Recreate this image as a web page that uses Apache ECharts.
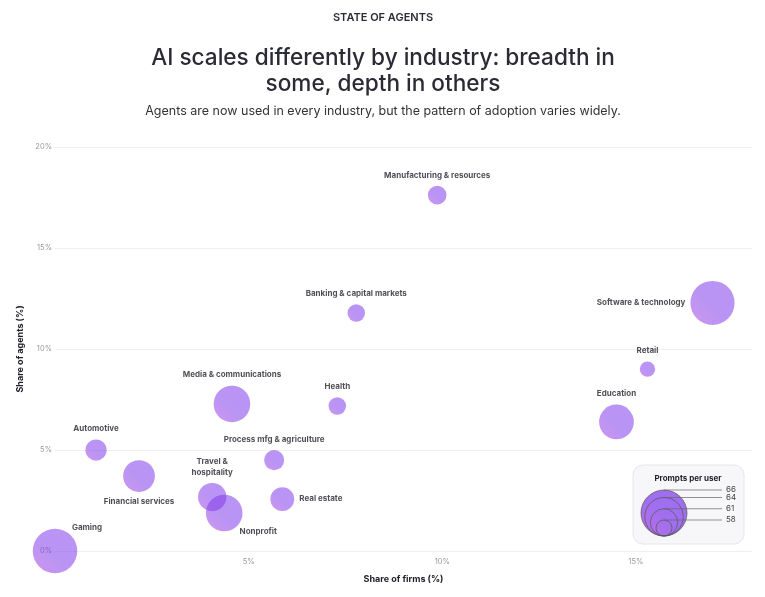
<!DOCTYPE html>
<html>
<head>
<meta charset="utf-8">
<script src="https://cdn.jsdelivr.net/npm/echarts@6/dist/echarts.min.js"></script>
<style>
html,body{margin:0;padding:0;background:#fff;}
#chart{width:765px;height:597px;}
</style>
</head>
<body>
<div id="chart"></div>
<script>
// ---- data ----
const industries = [
  'Gaming', 'Automotive', 'Financial services', 'Media & communications',
  'Travel &\nhospitality', 'Nonprofit', 'Process mfg & agriculture', 'Real estate',
  'Health', 'Banking & capital markets', 'Manufacturing & resources',
  'Software & technology', 'Retail', 'Education'
];
const firmShare  = [0.0, 1.06, 2.17, 4.57, 4.06, 4.37, 5.66, 5.87, 7.29, 7.78, 9.87, 16.98, 15.3, 14.5];
const agentShare = [0.0, 5.0, 3.71, 7.28, 2.67, 1.88, 4.5, 2.57, 7.18, 11.78, 17.62, 12.28, 9.0, 6.39];
const promptsPerUser = [65.6, 59.4, 62.2, 63.5, 61.3, 63.5, 59.1, 60.1, 58.4, 58.4, 58.7, 65.5, 57.8, 63.0];
const legendValues = [66, 64, 61, 58];
const xTicks = [0, 5, 10, 15];
const yTicks = [0, 5, 10, 15, 20];

// ---- styling / layout ----
const FONT = 'Inter, "Noto Sans", sans-serif';
function radius(v) { return 8 + (v - 58) * 1.875; }
function bubbleColor(a) {
  return {
    type: 'linear', x: 1, y: 0, x2: 0, y2: 1,
    colorStops: [
      {offset: 0, color: 'rgba(124,58,237,' + a + ')'},
      {offset: 0.55, color: 'rgba(127,58,234,' + a + ')'},
      {offset: 1, color: 'rgba(162,60,224,' + a + ')'}
    ]
  };
}
const labelLayout = {
  'Gaming': {position: 'inside', offset: [32, -23]},
  'Automotive': {position: 'top'},
  'Financial services': {position: 'bottom', distance: 4},
  'Media & communications': {position: 'top', distance: 6},
  'Travel &\nhospitality': {position: 'top', align: 'center'},
  'Nonprofit': {position: 'inside', offset: [34, 19]},
  'Process mfg & agriculture': {position: 'top'},
  'Real estate': {position: 'right', distance: 5},
  'Health': {position: 'top'},
  'Banking & capital markets': {position: 'top'},
  'Manufacturing & resources': {position: 'top'},
  'Software & technology': {position: 'left', distance: 5},
  'Retail': {position: 'top'},
  'Education': {position: 'top'}
};

const seriesData = industries.map((name, i) => {
  const l = labelLayout[name] || {position: 'top'};
  return {
    name: name,
    value: [firmShare[i], agentShare[i], promptsPerUser[i]],
    label: Object.assign({distance: 5}, l)
  };
});

// header texts
const headerGraphics = [
  {type: 'text', x: 383, y: 18, style: {text: 'STATE OF AGENTS', font: '600 11px ' + FONT,
    fill: '#2b2b33', align: 'center', verticalAlign: 'middle'}},
  {type: 'text', x: 383, y: 45, style: {text: 'AI scales differently by industry: breadth in\nsome, depth in others',
    font: '500 22.6px ' + FONT, lineHeight: 26, fill: '#2b2b35', align: 'center', verticalAlign: 'top'}},
  {type: 'text', x: 383, y: 111, style: {text: 'Agents are now used in every industry, but the pattern of adoption varies widely.',
    font: '400 12.5px ' + FONT, fill: '#333', align: 'center', verticalAlign: 'middle'}}
];

// legend graphic
const legCx = 664, legBottom = 536, lineEnd = 722;
const legendGraphics = [
  {type: 'rect', shape: {x: 633, y: 465, width: 111, height: 79, r: 10},
   style: {fill: '#f7f7f9', stroke: '#e6e6ea', lineWidth: 1}, z: 10},
  {type: 'text', x: 688, y: 479, style: {text: 'Prompts per user', font: 'bold 8px ' + FONT,
   fill: '#22222a', align: 'center', verticalAlign: 'middle'}, z: 11}
];
legendValues.forEach((v, k) => {
  const r = radius(v);
  const cy = legBottom - r;
  legendGraphics.push({
    type: 'circle', shape: {cx: legCx, cy: cy, r: r},
    style: k === 0 ? {fill: bubbleColor(0.72), stroke: '#555', lineWidth: 0.7}
                   : {fill: 'none', stroke: '#555', lineWidth: 0.7},
    z: 11 + k
  });
  legendGraphics.push({
    type: 'line', shape: {x1: legCx, y1: legBottom - 2 * r, x2: lineEnd, y2: legBottom - 2 * r},
    style: {stroke: '#666', lineWidth: 0.7}, z: 16
  });
  legendGraphics.push({
    type: 'text', x: lineEnd + 4, y: legBottom - 2 * r,
    style: {text: String(v), font: '8px ' + FONT, fill: '#444', align: 'left', verticalAlign: 'middle'}, z: 16
  });
});

const chart = echarts.init(document.getElementById('chart'), null, {renderer: 'canvas'});
chart.setOption({
  backgroundColor: '#ffffff',
  animation: false,
  grid: {left: 55, right: 13, top: 147, bottom: 46, containLabel: false},
  xAxis: {
    type: 'value', min: 0, max: 18, interval: 5,
    name: 'Share of firms (%)', nameLocation: 'middle', nameGap: 24,
    nameTextStyle: {fontFamily: FONT, fontSize: 9, fontWeight: 'bold', color: '#22222a'},
    axisLine: {show: false}, axisTick: {show: false}, splitLine: {show: false},
    axisLabel: {fontFamily: FONT, fontSize: 7.5, color: '#999', margin: 7,
      formatter: v => (xTicks.indexOf(v) > 0 ? v + '%' : '')}
  },
  yAxis: {
    type: 'value', min: 0, max: 20, interval: 5,
    name: 'Share of agents (%)', nameLocation: 'middle', nameGap: 29,
    nameTextStyle: {fontFamily: FONT, fontSize: 9, fontWeight: 'bold', color: '#22222a'},
    axisLine: {show: false}, axisTick: {show: false},
    splitLine: {show: true, lineStyle: {color: '#efeff2', width: 1}},
    axisLabel: {fontFamily: FONT, fontSize: 7.5, color: '#999', margin: 3,
      formatter: v => (yTicks.indexOf(v) >= 0 ? v + '%' : '')}
  },
  series: [{
    type: 'scatter',
    clip: false,
    data: seriesData,
    symbolSize: val => 2 * radius(val[2]),
    itemStyle: {color: bubbleColor(0.68)},
    label: {show: true, formatter: p => p.name, fontFamily: FONT, fontSize: 8, fontWeight: 'bold',
      color: '#22222a', lineHeight: 11},
    emphasis: {disabled: true}
  }],
  graphic: headerGraphics.concat(legendGraphics)
});
</script>
</body>
</html>
